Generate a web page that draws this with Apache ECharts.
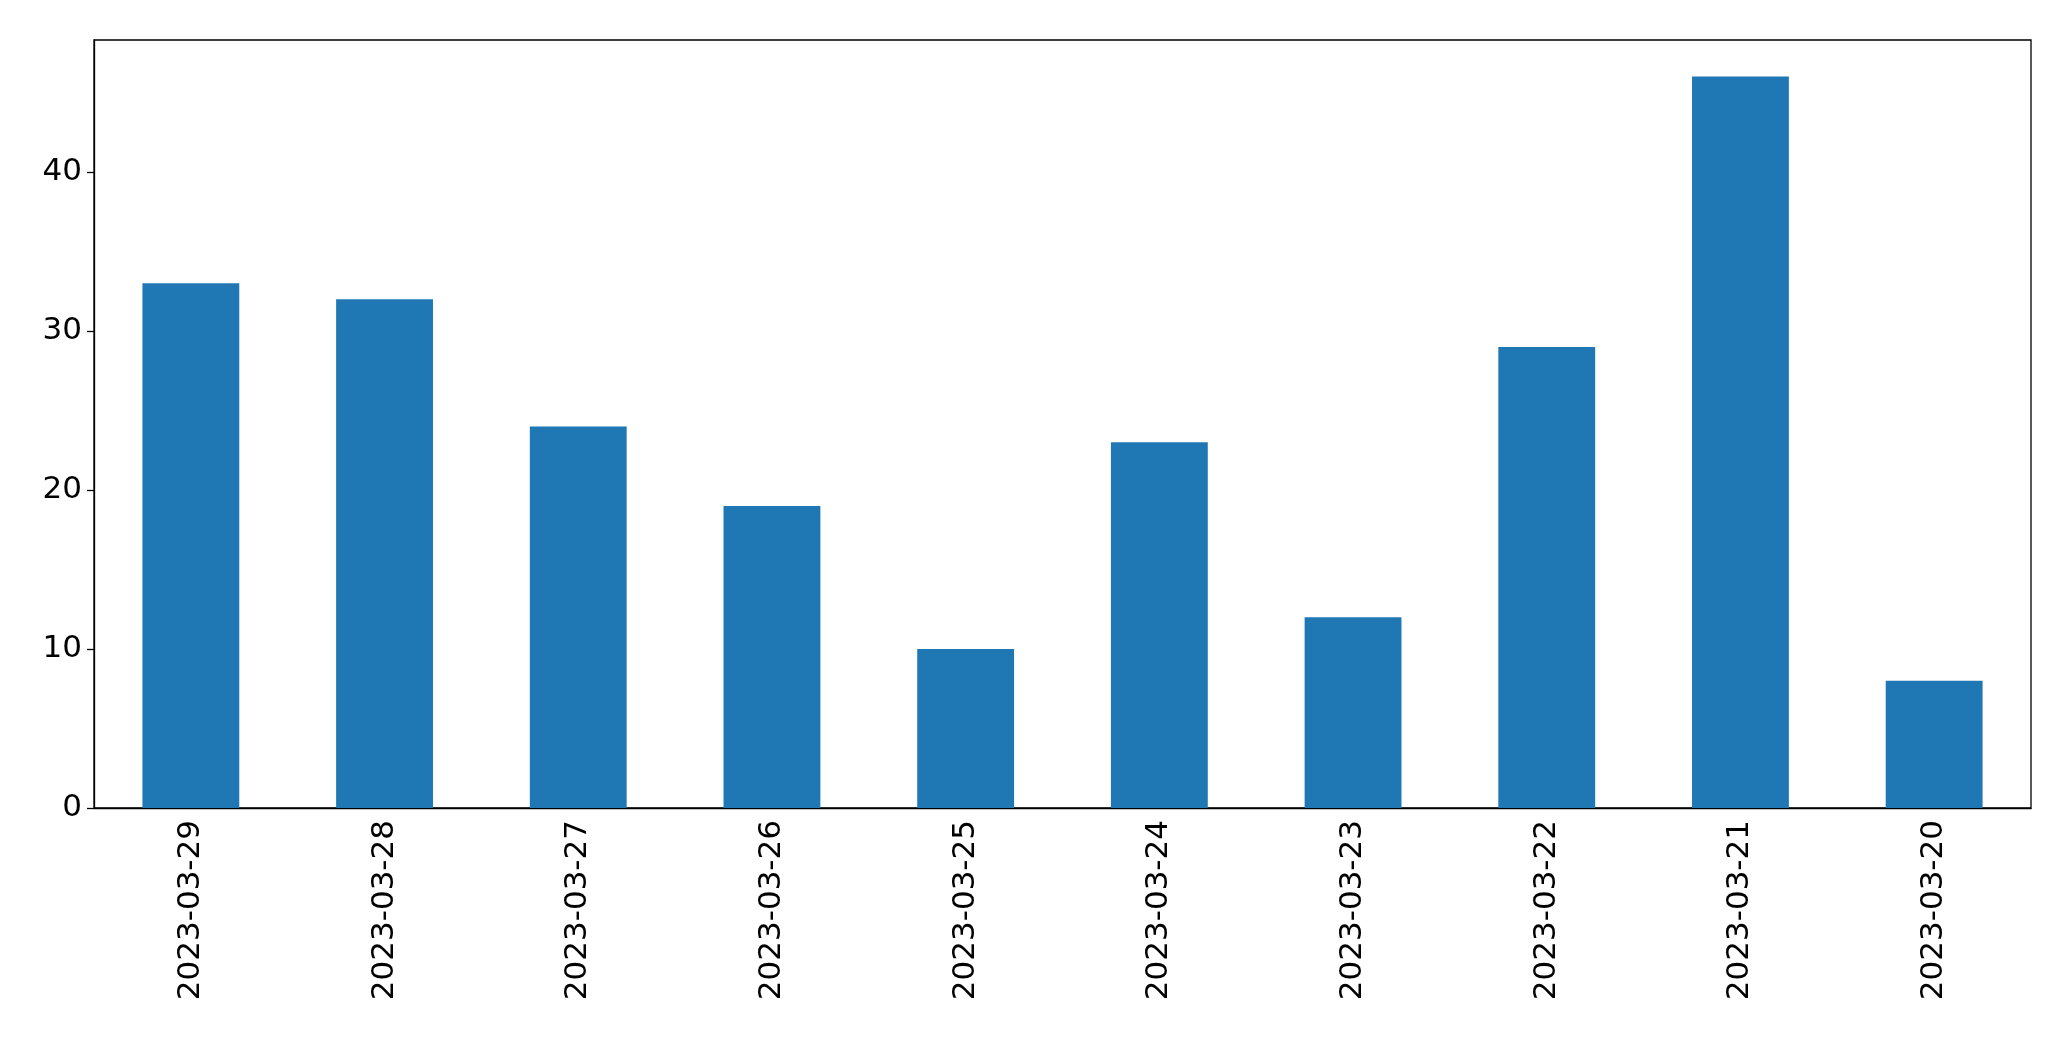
<!DOCTYPE html>
<html><head><meta charset="utf-8">
<script src="https://cdn.jsdelivr.net/npm/echarts@6/dist/echarts.min.js"></script>
<style>html,body{margin:0;padding:0;background:#fff}#c{width:2071px;height:1061px}</style>
</head><body><div id="c"></div>
<script>
const categories = ["2023-03-29","2023-03-28","2023-03-27","2023-03-26","2023-03-25","2023-03-24","2023-03-23","2023-03-22","2023-03-21","2023-03-20"];
const values = [33,32,24,19,10,23,12,29,46,8];
const yTicks = [0,10,20,30,40];
const chart = echarts.init(document.getElementById('c'));
const font = {fontFamily:'DejaVu Sans', fontSize:31, color:'#000'};
chart.setOption({
  animation:false,
  grid:{left:94,right:40,top:40,bottom:253,show:true,borderColor:'#000',borderWidth:1.3},
  xAxis:{type:'category',data:categories,
    axisLine:{lineStyle:{color:'#000',width:1.3}},
    axisTick:{alignWithLabel:true,length:7,lineStyle:{color:'#000',width:1.3}},
    axisLabel:Object.assign({rotate:90,margin:12,interval:0},font)},
  yAxis:{type:'value',min:0,max:48.3,interval:10,
    splitLine:{show:false},
    axisLine:{show:true,lineStyle:{color:'#000',width:1.3}},
    axisTick:{show:true,length:7,lineStyle:{color:'#000',width:1.3}},
    axisLabel:Object.assign({margin:12,showMaxLabel:false,formatter:v=>yTicks.includes(v)?String(v):''},font)},
  series:[{type:'bar',data:values,barWidth:'50%',itemStyle:{color:'#1f77b4'}}]
});
</script></body></html>
